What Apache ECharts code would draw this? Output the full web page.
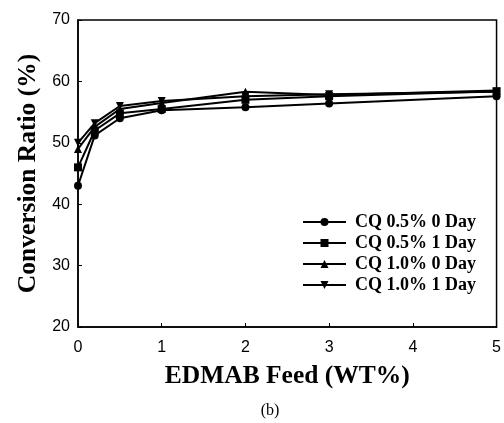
<!DOCTYPE html>
<html lang="en">
<head>
	<meta charset="utf-8">
	<script type="text/javascript" src="https://cdn.jsdelivr.net/npm/echarts@6/dist/echarts.min.js"></script>
	<title>Conversion Ratio</title>
	<style>
		html, body { margin: 0; padding: 0; background: #fff; }
		#chart { width: 504px; height: 423px; }
	</style>
</head>
<body>
    <div id="chart"></div>
<script>
    // 数据
    var xFeed = [0, 0.2, 0.5, 1, 2, 3, 5];
    var cq05d0 = [43, 51.2, 54, 55.3, 55.8, 56.4, 57.6];
    var cq05d1 = [46, 52, 54.8, 55.5, 57, 57.6, 58.4];
    var cq10d0 = [49, 52.6, 55.5, 56.5, 58.3, 57.8, 58.5];
    var cq10d1 = [50, 53.2, 56, 56.8, 57.6, 57.9, 58.3];
    var names = ['CQ 0.5% 0 Day', 'CQ 0.5% 1 Day', 'CQ 1.0% 0 Day', 'CQ 1.0% 1 Day'];
    var symbols = ['circle', 'rect', 'triangle', 'path://M0,0 L10,0 L5,10 Z'];
    var allData = [cq05d0, cq05d1, cq10d0, cq10d1];

    function pairs(ys){
        return xFeed.map(function(x, i){ return [x, ys[i]]; });
    }

    var serif = '"Liberation Serif", "Times New Roman", serif';
    var sans = '"Liberation Sans", Arial, sans-serif';

    var series = allData.map(function(ys, i){
        return {
            name: names[i],
            type: 'line',
            data: pairs(ys),
            symbol: symbols[i],
            symbolSize: 8,
            clip: false,
            lineStyle: { color: '#000', width: 2 },
            itemStyle: { color: '#000' }
        };
    });

    var myChart = echarts.init(document.getElementById('chart'));
    var option = {
        animation: false,
        backgroundColor: '#fff',
        title: {
            text: '(b)',
            left: 265,
            top: 398,
            textAlign: 'center',
            textStyle: { fontFamily: serif, fontSize: 16, fontWeight: 'normal', color: '#000' }
        },
        grid: {
            left: 78, right: 3, top: 20, bottom: 96,
            show: true, borderColor: '#000', borderWidth: 1.5
        },
        legend: {
            orient: 'vertical',
            left: 297,
            top: 208,
            itemWidth: 43,
            itemHeight: 10,
            itemGap: 3,
            textStyle: { fontFamily: serif, fontSize: 18, fontWeight: 'bold', color: '#000', padding: [0, 0, 0, 4] },
            data: names
        },
        xAxis: {
            type: 'value',
            min: 0, max: 5, interval: 1,
            name: 'EDMAB Feed (WT%)',
            nameLocation: 'middle',
            nameGap: 36,
            nameTextStyle: { fontFamily: serif, fontSize: 25.5, fontWeight: 'bold', color: '#000' },
            axisLine: { lineStyle: { color: '#000', width: 1.5 } },
            axisTick: { inside: true, length: 4, lineStyle: { color: '#000' } },
            axisLabel: { margin: 13, fontFamily: sans, fontSize: 16, color: '#000' },
            splitLine: { show: false }
        },
        yAxis: {
            type: 'value',
            min: 20, max: 70, interval: 10,
            name: 'Conversion Ratio (%)',
            nameLocation: 'middle',
            nameGap: 37,
            nameTextStyle: { fontFamily: serif, fontSize: 25.5, fontWeight: 'bold', color: '#000' },
            axisLine: { lineStyle: { color: '#000', width: 1.5 } },
            axisTick: { inside: true, length: 4, lineStyle: { color: '#000' } },
            axisLabel: { margin: 8, fontFamily: sans, fontSize: 16, color: '#000' },
            splitLine: { show: false }
        },
        series: series
    };
    myChart.setOption(option);
</script>
</body>
</html>
